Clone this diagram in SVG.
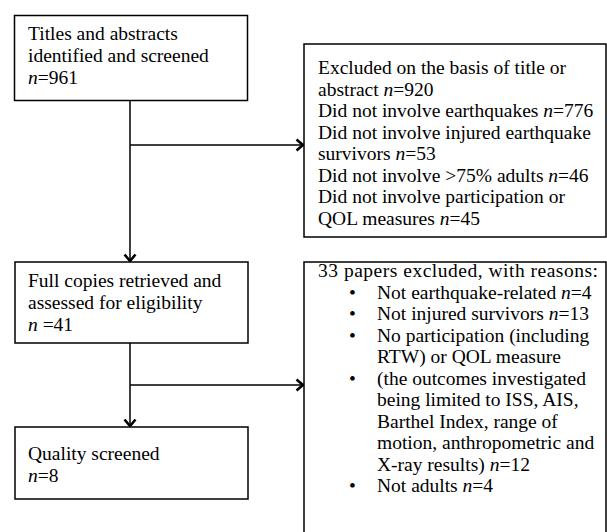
<svg xmlns="http://www.w3.org/2000/svg" width="607" height="532" viewBox="0 0 607 532">
<style>
.box{fill:#fff;stroke:#000;stroke-width:1.5}
.c{fill:none;stroke:#000;stroke-width:1.5}
text, tspan{font-family:'Liberation Serif','Times New Roman',serif !important}
</style>
<defs>
<marker id="ah" markerWidth="12" markerHeight="14" refX="9" refY="7" orient="auto" markerUnits="userSpaceOnUse">
<path d="M2.5,1.5 L9,7 L2.5,12.5" fill="none" stroke="#000" stroke-width="2.6"/>
</marker>
</defs>
<rect width="607" height="532" fill="#fff"/>
<g id="connectors">
<line class="c" x1="130" y1="100" x2="130" y2="261" marker-end="url(#ah)"/>
<line class="c" x1="130" y1="145" x2="303" y2="145" marker-end="url(#ah)"/>
<line class="c" x1="130" y1="343" x2="130" y2="426" marker-end="url(#ah)"/>
<line class="c" x1="130" y1="385" x2="303" y2="385" marker-end="url(#ah)"/>
</g>
<g id="n1">
<rect class="box" x="14.5" y="15.5" width="233" height="85"/>
<text font-family="Liberation Serif" font-size="19.5" x="28" y="40">Titles and abstracts</text>
<text font-family="Liberation Serif" font-size="19.5" x="28" y="62">identified and screened</text>
<text font-family="Liberation Serif" font-size="19.5" x="28" y="84"><tspan font-style="italic">n</tspan>=961</text>
</g>
<g id="n2">
<rect class="box" x="304" y="44" width="302" height="193"/>
<text font-family="Liberation Serif" font-size="19.5" x="318" y="74">Excluded on the basis of title or</text>
<text font-family="Liberation Serif" font-size="19.5" x="318" y="95.5">abstract <tspan font-style="italic">n</tspan>=920</text>
<text font-family="Liberation Serif" font-size="19.5" x="318" y="117">Did not involve earthquakes <tspan font-style="italic">n</tspan>=776</text>
<text font-family="Liberation Serif" font-size="19.5" x="318" y="138.5">Did not involve injured earthquake</text>
<text font-family="Liberation Serif" font-size="19.5" x="318" y="160">survivors <tspan font-style="italic">n</tspan>=53</text>
<text font-family="Liberation Serif" font-size="19.5" x="318" y="181.5">Did not involve &gt;75% adults <tspan font-style="italic">n</tspan>=46</text>
<text font-family="Liberation Serif" font-size="19.5" x="318" y="203">Did not involve participation or</text>
<text font-family="Liberation Serif" font-size="19.5" x="318" y="224.5">QOL measures <tspan font-style="italic">n</tspan>=45</text>
</g>
<g id="n3">
<rect class="box" x="15" y="262" width="233" height="81"/>
<text font-family="Liberation Serif" font-size="19.5" x="28" y="287">Full copies retrieved and</text>
<text font-family="Liberation Serif" font-size="19.5" x="28" y="309">assessed for eligibility</text>
<text font-family="Liberation Serif" font-size="19.5" x="28" y="331"><tspan font-style="italic">n</tspan> =41</text>
</g>
<g id="n4">
<rect class="box" x="15" y="427" width="233" height="72"/>
<text font-family="Liberation Serif" font-size="19.5" x="28" y="460">Quality screened</text>
<text font-family="Liberation Serif" font-size="19.5" x="28" y="482"><tspan font-style="italic">n</tspan>=8</text>
</g>
<g id="n5">
<path class="box" d="M304,533 L304,262 L606,262 L606,533"/>
<text font-family="Liberation Serif" font-size="19.5" x="318" y="277" textLength="280" lengthAdjust="spacing">33 papers excluded, with reasons:</text>
<text font-family="Liberation Serif" font-size="19.5" x="349" y="298.5">&#8226;</text>
<text font-family="Liberation Serif" font-size="19.5" x="377" y="298.5">Not earthquake-related <tspan font-style="italic">n</tspan>=4</text>
<text font-family="Liberation Serif" font-size="19.5" x="349" y="320">&#8226;</text>
<text font-family="Liberation Serif" font-size="19.5" x="377" y="320">Not injured survivors <tspan font-style="italic">n</tspan>=13</text>
<text font-family="Liberation Serif" font-size="19.5" x="349" y="341.5">&#8226;</text>
<text font-family="Liberation Serif" font-size="19.5" x="377" y="341.5">No participation (including</text>
<text font-family="Liberation Serif" font-size="19.5" x="377" y="363">RTW) or QOL measure</text>
<text font-family="Liberation Serif" font-size="19.5" x="349" y="384.5">&#8226;</text>
<text font-family="Liberation Serif" font-size="19.5" x="377" y="384.5">(the outcomes investigated</text>
<text font-family="Liberation Serif" font-size="19.5" x="377" y="406">being limited to ISS, AIS,</text>
<text font-family="Liberation Serif" font-size="19.5" x="377" y="427.5">Barthel Index, range of</text>
<text font-family="Liberation Serif" font-size="19.5" x="377" y="449">motion, anthropometric and</text>
<text font-family="Liberation Serif" font-size="19.5" x="377" y="470.5">X-ray results) <tspan font-style="italic">n</tspan>=12</text>
<text font-family="Liberation Serif" font-size="19.5" x="349" y="492">&#8226;</text>
<text font-family="Liberation Serif" font-size="19.5" x="377" y="492">Not adults <tspan font-style="italic">n</tspan>=4</text>
</g>
</svg>
